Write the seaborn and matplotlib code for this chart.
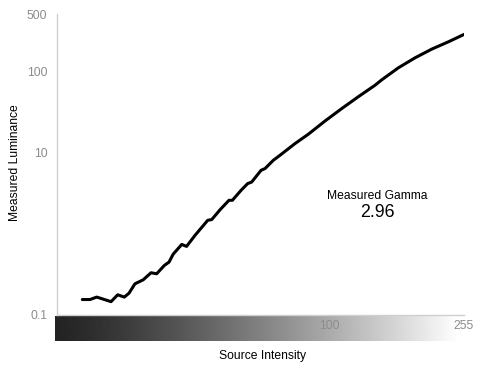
import numpy as np
import pandas as pd
import matplotlib
matplotlib.use("Agg")
import matplotlib.pyplot as plt
import seaborn as sns

# ---- data ----
source_intensity = [0.4, 0.74, 1.14, 1.6, 2.33, 3.05, 3.88, 4.54, 5.46, 6.91,
                    8.44, 9.68, 11.5, 12.7, 13.8, 16.3, 17.8, 20.6, 25.3, 26.9,
                    30.4, 34.4, 36.0, 40.3, 43.7, 45.9, 51.2, 53.5, 58.6, 62.9,
                    73.2, 83.1, 96.5, 111.1, 126.7, 143.6, 150.8, 169.3, 189.2,
                    210.4, 232.7, 255.0]
luminance = [0.153, 0.153, 0.164, 0.155, 0.144, 0.175, 0.164, 0.183, 0.239, 0.268,
             0.327, 0.318, 0.403, 0.443, 0.553, 0.731, 0.691, 0.944, 1.45, 1.48,
             1.96, 2.56, 2.56, 3.40, 4.11, 4.30, 6.0, 6.29, 7.96, 9.18,
             12.8, 16.7, 24.3, 34.6, 48.4, 67.0, 78.2, 109.9, 146, 187,
             230, 284]
x_ticks = [100, 255]
x_tick_labels = ["100", "255"]
y_ticks = [0.1, 10, 100, 500]
y_tick_labels = ["0.1", "10", "100", "500"]
gamma_label = "Measured Gamma"
gamma_value = "2.96"

df = pd.DataFrame({"Source Intensity": source_intensity,
                   "Measured Luminance": luminance})

sns.set_style("white")
plt.rcParams["font.family"] = ["Liberation Sans", "DejaVu Sans"]

W, H = 484, 375
fig = plt.figure(figsize=(W / 100, H / 100), dpi=100)

# gradient strip under the axis
gax = fig.add_axes([55 / W, (H - 341) / H, 407 / W, 25 / H])
grad = np.linspace(0, 1, 512) ** 1.25
gax.imshow(grad[np.newaxis, :], aspect="auto", cmap="gray",
           vmin=-0.16, vmax=0.99, extent=[0, 1, 0, 1])
gax.set_axis_off()

ax = fig.add_axes([57 / W, (H - 314.5) / H, 407 / W, 300 / H])
ax.set_facecolor("none")
sns.lineplot(data=df, x="Source Intensity", y="Measured Luminance", ax=ax,
             color="black", linewidth=2.2, sort=False)
for ln in ax.lines:
    ln.set_solid_joinstyle("round")
    ln.set_solid_capstyle("round")

p = 0.43
ax.set_xscale("function",
              functions=(lambda x: np.power(np.clip(x, 0, None) / 255.0, p),
                         lambda y: 255.0 * np.power(np.clip(y, 0, None), 1 / p)))
ax.set_yscale("log")
ax.set_xlim(0, 255)
ax.set_ylim(0.1, 500)

ax.set_xticks(x_ticks)
ax.set_xticklabels(x_tick_labels)
ax.set_yticks(y_ticks)
ax.set_yticklabels(y_tick_labels)
ax.minorticks_off()
ax.tick_params(axis="both", length=0, labelsize=8.7, labelcolor="#8c8c8c")
ax.tick_params(axis="y", pad=7)
ax.tick_params(axis="x", pad=4)

for s in ["top", "right"]:
    ax.spines[s].set_visible(False)
for s in ["left", "bottom"]:
    ax.spines[s].set_color("#cfcfcf")
    ax.spines[s].set_linewidth(1.0)

ax.set_xlabel("")
ax.set_ylabel("")
fig.text(15 / W, 1 - 163 / H, "Measured Luminance", rotation=90,
         ha="center", va="center", fontsize=8.7, color="black")
fig.text(263 / W, 1 - 356 / H, "Source Intensity",
         ha="center", va="center", fontsize=8.7, color="black")

fig.text(377 / W, 1 - 196 / H, gamma_label, ha="center", va="center",
         fontsize=8.7, color="black")
fig.text(377 / W, 1 - 213 / H, gamma_value, ha="center", va="center",
         fontsize=12.8, color="black")

fig.savefig("out.png", dpi=100)
